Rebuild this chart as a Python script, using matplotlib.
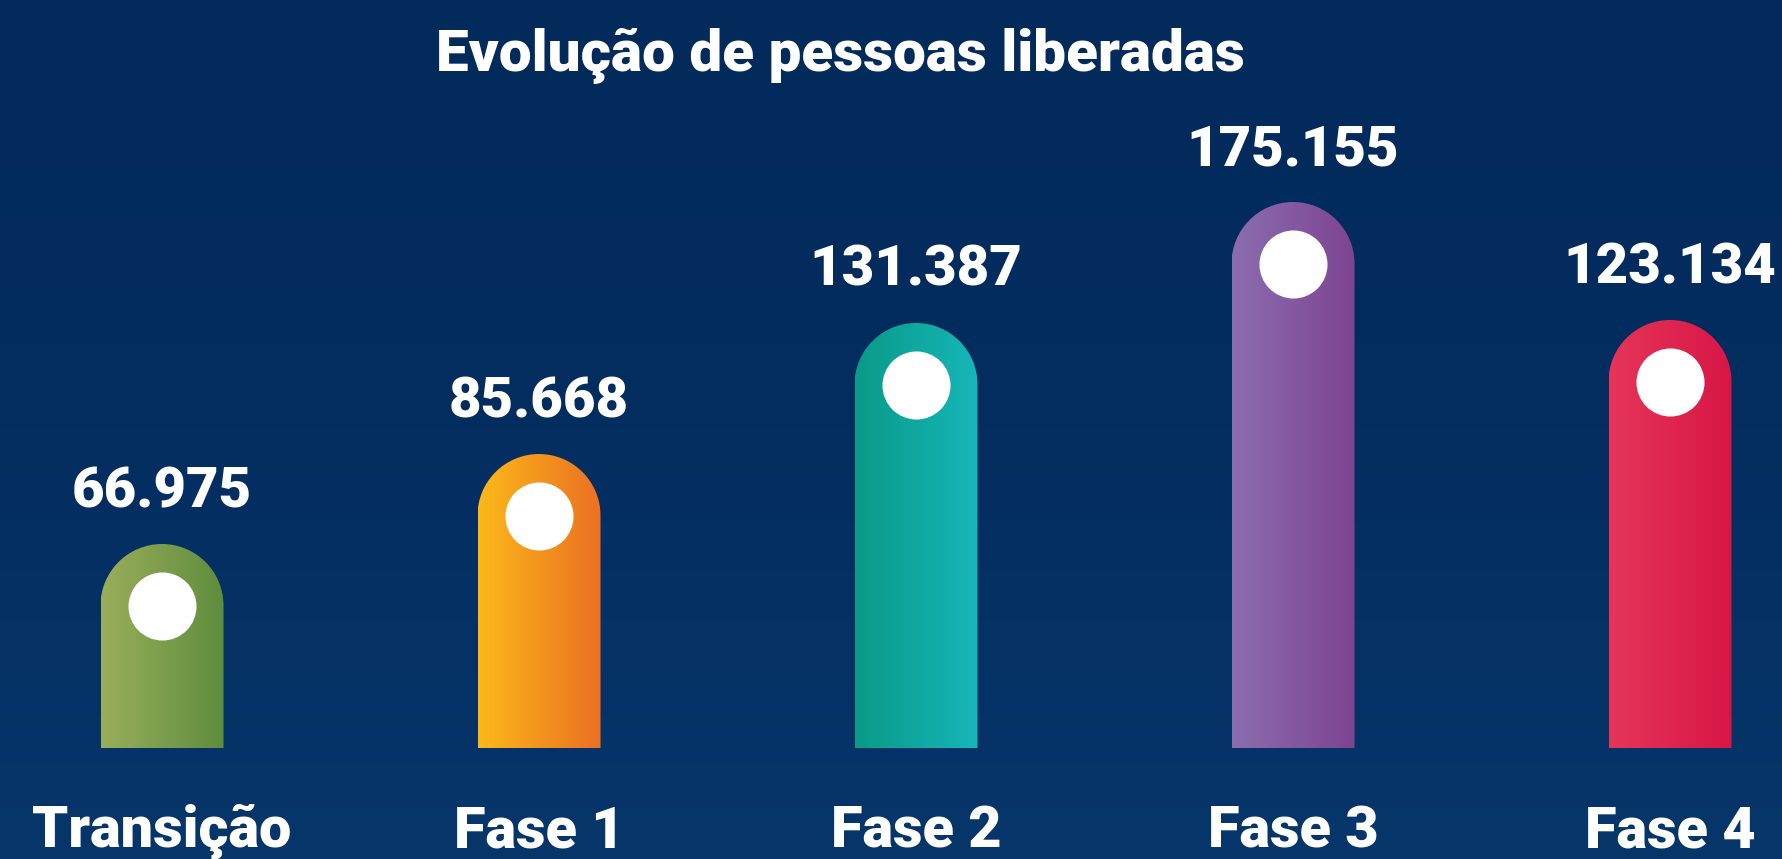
import numpy as np
import matplotlib
matplotlib.use("Agg")
from matplotlib import pyplot as plt
from matplotlib.path import Path
from matplotlib.patches import PathPatch
from matplotlib.colors import LinearSegmentedColormap

# dados do gráfico
categorias = ["Transição", "Fase 1", "Fase 2", "Fase 3", "Fase 4"]
pessoas = [66975, 85668, 131387, 175155, 123134]
# altura desenhada de cada barra (unidades do desenho)
alturas = [204, 294, 425, 546, 428]
cores = [("#9aae5b", "#5e8d3d"),
         ("#fbb919", "#ec7023"),
         ("#0a9a88", "#16b6b9"),
         ("#8b6daf", "#7d4492"),
         ("#e6355a", "#d81646")]

W, H = 1782, 859
fig = plt.figure(figsize=(W / 100, H / 100), dpi=100)

# fundo azul escuro com leve degradê
bg = fig.add_axes([0, 0, 1, 1])
bg.set_axis_off()
grad = np.linspace(0, 1, 256).reshape(-1, 1)
bg_cmap = LinearSegmentedColormap.from_list("bg", ["#022a5b", "#042d60", "#07366a"])
bg.imshow(grad, aspect="auto", cmap=bg_cmap, extent=[0, 1, 0, 1], origin="upper")

ax = fig.add_axes([0, 0, 1, 1])
ax.set_axis_off()
ax.patch.set_alpha(0)
passo = 377

largura = 123 / passo
raio = 61.5  # raio do topo arredondado (em unidades y)
k = 0.5523
fonte = dict(color="white", fontweight="black", family="Roboto")

for i, (cat, val, h, (c1, c2)) in enumerate(zip(categorias, pessoas, alturas, cores)):
    x0, x1 = i - largura / 2, i + largura / 2
    rx = largura / 2
    yc = h - raio
    verts = [(x0, 0), (x1, 0), (x1, yc),
             (x1, yc + k * raio), (i + k * rx, h), (i, h),
             (i - k * rx, h), (x0, yc + k * raio), (x0, yc),
             (x0, 0)]
    codes = [Path.MOVETO, Path.LINETO, Path.LINETO,
             Path.CURVE4, Path.CURVE4, Path.CURVE4,
             Path.CURVE4, Path.CURVE4, Path.CURVE4,
             Path.CLOSEPOLY]
    patch = PathPatch(Path(verts, codes), facecolor="none", edgecolor="none")
    ax.add_patch(patch)
    cmap = LinearSegmentedColormap.from_list(cat, [c1, c2])
    img = ax.imshow(np.linspace(0, 1, 128).reshape(1, -1), cmap=cmap, aspect="auto",
                    extent=[x0, x1, 0, h], interpolation="bilinear")
    img.set_clip_path(patch)
    ax.plot(i, yc, "o", ms=49, color="white", mec="none")
    ax.text(i, h + 37, f"{val:,}".replace(",", "."), ha="center", va="baseline",
            fontsize=40.5, **fonte)
    ax.text(i, -99, cat, ha="center", va="baseline", fontsize=41.5, **fonte)

ax.set_xlim(-162 / passo, 4 + (W - 1670) / passo)
ax.set_ylim(-(H - 748), 748)

fig.text(840 / W, 1 - 71 / H, "Evolução de pessoas liberadas", ha="center", va="baseline",
         fontsize=42, **fonte)

fig.savefig("out.png", dpi=100, facecolor="#022a5b")
